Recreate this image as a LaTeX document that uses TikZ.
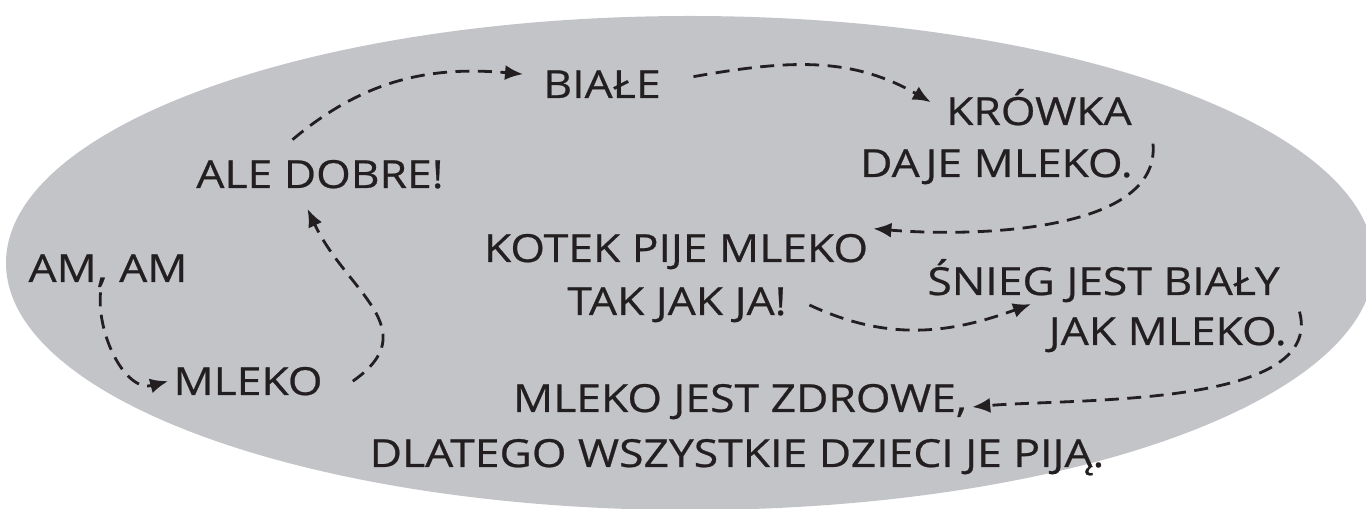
\documentclass[tikz,border=0pt]{standalone}
\usepackage{fontspec}
\setmainfont{Open Sans}[FakeStretch=1.15, FakeBold=0.6]
\usetikzlibrary{arrows.meta}
\definecolor{milkgray}{RGB}{195,196,200}
\definecolor{ink}{RGB}{35,31,32}
\tikzstyle{word} = [text=ink, inner sep=0.1cm]
\tikzstyle{flow} = [->, draw=ink, line width=1.6pt, dash pattern=on 0.28cm off 0.17cm]

\begin{document}
\begin{tikzpicture}[x=0.02cm, y=-0.02cm, >={Latex[length=3.6mm, width=3mm]}]
    \tikzset{font={\fontsize{22pt}{28}\selectfont}}
    \useasboundingbox (0,0) rectangle (1366,509);
    \clip (0,0) rectangle (1366,509);
    \fill [milkgray] (690,263) ellipse [x radius=684, y radius=247];
    % words, left to right along the story
    \node [word, anchor=base] (am) at (108,282) {AM, AM};
    \node [word, anchor=base] (mleko) at (248,395) {MLEKO};
    \node [word, anchor=base] (ale) at (320,188) {ALE DOBRE!};
    \node [word, anchor=base] (biale) at (602,98) {BIAŁE};
    \node [word, anchor=base east] (krowka) at (1137,125) {KRÓWKA};
    \node [word, anchor=base east] (daje) at (1138,177) {DAJE MLEKO.};
    \node [word, anchor=base] (kotek) at (676,262) {KOTEK PIJE MLEKO};
    \node [word, anchor=base] (tak) at (677,315) {TAK JAK JA!};
    \node [word, anchor=base east] (snieg) at (1285,295) {ŚNIEG JEST BIAŁY};
    \node [word, anchor=base east] (jak) at (1292,345) {JAK MLEKO.};
    \node [word, anchor=base] (zdrowe) at (740,412) {MLEKO JEST ZDROWE,};
    \node [word, anchor=base] (dzieci) at (737,467) {DLATEGO WSZYSTKIE DZIECI JE PIJĄ.};
    % dashed links
    \draw [flow] ([xshift=-0.15cm]am.south) to[out=-95, in=195] (mleko.west);
    \draw [flow] ([xshift=0.5cm]mleko.east) to[out=35, in=-65, looseness=1.3] ([xshift=-0.25cm, yshift=-0.3cm]ale.south);
    \draw [flow] ([xshift=-0.55cm, yshift=0.3cm]ale.north) to[out=40, in=175] ([xshift=-0.3cm, yshift=0.2cm]biale.west);
    \draw [flow] ([xshift=0.55cm, yshift=0.15cm]biale.east) to[out=10, in=150] ([xshift=-0.2cm, yshift=0.1cm]krowka.west);
    \draw [flow] ([xshift=0.3cm]daje.north east) to[out=-85, in=-5, looseness=0.8] (kotek.north east);
    \draw [flow] ([xshift=0.35cm, yshift=0.2cm]tak.base east) to[out=-25, in=200] ([xshift=-0.25cm, yshift=0.15cm]jak.north west);
    \draw [flow] ([xshift=0.15cm]jak.north east) to[out=-75, in=5, looseness=0.75] ([yshift=0.1cm]zdrowe.base east);
\end{tikzpicture}
\end{document}
